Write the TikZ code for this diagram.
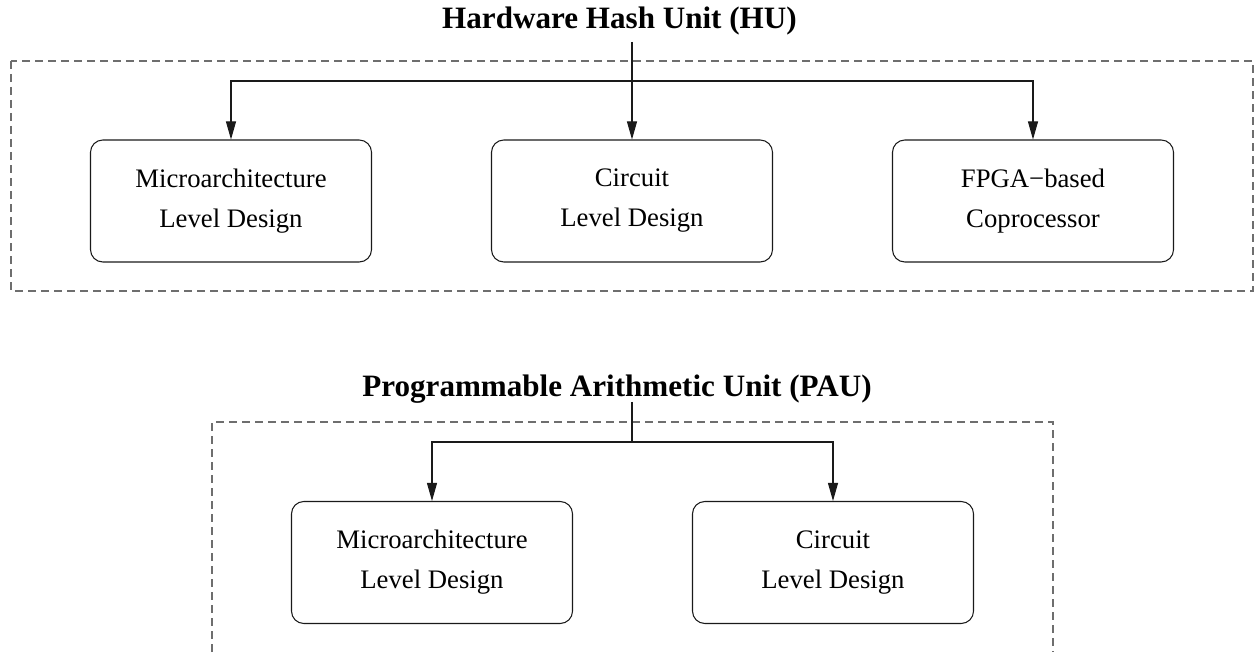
\documentclass[tikz,border=0pt]{standalone}
\usepackage{fontspec}
\setmainfont{Liberation Serif}
\usetikzlibrary{positioning, arrows.meta}
\definecolor{hLine}{HTML}{1A1A1A}
\definecolor{hDash}{HTML}{6E6E6E}

\begin{document}
\begin{tikzpicture}[
  every node/.style={font=\fontsize{15.2}{22.8}\selectfont},
  dbox/.style={draw=hLine, rounded corners=7pt, align=center,
               minimum width=5.62cm, minimum height=2.44cm, line width=0.6pt},
  ttl/.style={font=\fontsize{17.7}{21}\selectfont\bfseries, inner sep=0pt},
  frame/.style={draw=hDash, line width=0.6pt, dash pattern=on 0.16cm off 0.1cm},
  conn/.style={draw=hLine, line width=0.6pt},
  arr/.style={conn, -{Triangle[length=3.6mm, width=2mm]}},
]
  \useasboundingbox (0,0) rectangle (25.1,13.04);

  % Hardware hash unit
  \node[ttl] (hu) at (12.39,12.62) {Hardware Hash Unit (HU)};
  \draw[frame] (0.22,11.82) rectangle (25.06,7.22);

  \node[dbox] (hm) at (4.62,9.02) {Microarchitecture\\Level Design};
  \node[dbox] (hc) at (12.64,9.02) {Circuit\\Level Design};
  \node[dbox] (hf) at (20.66,9.02) {FPGA−based\\Coprocessor};

  \coordinate (hutop) at (12.64,12.2);
  \coordinate (hubus) at (12.64,11.42);
  \draw[arr] (hutop) -- (hc.north);
  \draw[arr] (hubus) -| (hm.north);
  \draw[arr] (hubus) -| (hf.north);

  % Programmable arithmetic unit
  \node[ttl] (pau) at (12.34,5.26) {Programmable Arithmetic Unit (PAU)};
  \draw[frame] (4.24,0) -- (4.24,4.6) -- (21.06,4.6) -- (21.06,0);

  \node[dbox] (pm) at (8.64,1.79) {Microarchitecture\\Level Design};
  \node[dbox] (pc) at (16.66,1.79) {Circuit\\Level Design};

  \coordinate (pautop) at (12.64,5.0);
  \coordinate (paubus) at (12.64,4.2);
  \draw[conn] (pautop) -- (paubus);
  \draw[arr] (paubus) -| (pm.north);
  \draw[arr] (paubus) -| (pc.north);
\end{tikzpicture}
\end{document}
